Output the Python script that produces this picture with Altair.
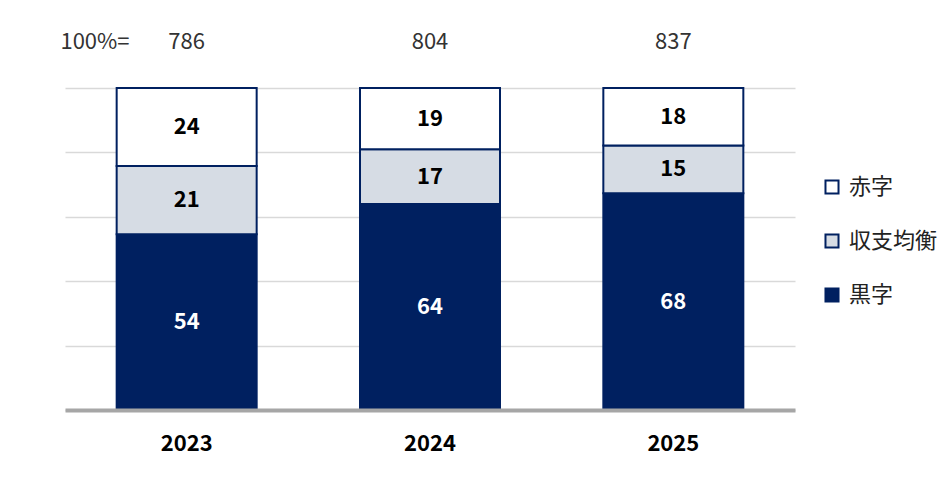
import pandas as pd
import altair as alt

# chart values
years = ["2023", "2024", "2025"]
totals = [786, 804, 837]
categories = ["黒字", "収支均衡", "赤字"]   # bottom to top
kuroji = [54, 64, 68]
shushi = [21, 17, 15]
akaji = [24, 19, 18]
cat_colors = ["#002060", "#D6DCE4", "#FFFFFF"]

FONT = "Noto Sans CJK JP"
NAVY = "#002060"

rows = []
for i, y in enumerate(years):
    for k, (cat, vals) in enumerate(zip(categories, [kuroji, shushi, akaji])):
        rows.append({"year": y, "cat": cat, "value": vals[i], "order": k,
                     "txtcolor": "white" if cat == "黒字" else "black"})
df = pd.DataFrame(rows)
top_df = pd.DataFrame({"year": years, "total": totals})

x_enc = alt.X("year:N", sort=years,
              scale=alt.Scale(paddingInner=0, paddingOuter=0),
              axis=alt.Axis(title=None, labelAngle=0, labelFontSize=22, labelFont=FONT,
                            labelFontWeight="bold", labelColor="black", ticks=False,
                            domainColor="#A6A6A6", domainWidth=4, labelPadding=23, zindex=1))

base = alt.Chart(df).transform_stack(
    stack="value", groupby=["year"], as_=["y0", "y1"], offset="normalize",
    sort=[alt.SortField("order")]
).transform_calculate(mid="(datum.y0 + datum.y1) / 2")

bars = base.mark_bar(size=140, stroke=NAVY, strokeWidth=2).encode(
    x=x_enc,
    y=alt.Y("y0:Q", scale=alt.Scale(domain=[0, 1], nice=False),
            axis=alt.Axis(title=None, labels=False, ticks=False, domain=False,
                          values=[0, 0.2, 0.4, 0.6, 0.8, 1.0],
                          gridColor="#D9D9D9", gridWidth=1.5)),
    y2="y1:Q",
    color=alt.Color("cat:N",
                    scale=alt.Scale(domain=["赤字", "収支均衡", "黒字"],
                                    range=["#FFFFFF", "#D6DCE4", "#002060"]),
                    legend=alt.Legend(title=None, orient="none", legendX=756, legendY=88,
                                      symbolType="square", symbolSize=170,
                                      symbolStrokeColor=NAVY, symbolStrokeWidth=2,
                                      labelFont=FONT, labelFontSize=22, labelColor="#222",
                                      labelOffset=6, rowPadding=32)),
)

labels = base.mark_text(font=FONT, fontSize=22, fontWeight="bold").encode(
    x=alt.X("year:N", sort=years),
    y=alt.Y("mid:Q"),
    text="value:Q",
    color=alt.Color("txtcolor:N", scale=None),
)

tops = alt.Chart(top_df).mark_text(font=FONT, fontSize=22, color="#333").encode(
    x=alt.X("year:N", sort=years),
    y=alt.value(-46),
    text="total:Q",
)

hundred = alt.Chart(pd.DataFrame({"t": ["100%="]})).mark_text(
    font=FONT, fontSize=22, color="#333").encode(
    x=alt.value(30), y=alt.value(-46), text="t:N")

chart = alt.layer(bars, labels, tops, hundred).properties(
    width=730, height=322,
    autosize=alt.AutoSizeParams(type="none"),
    padding={"left": 57, "top": 80, "right": 143, "bottom": 58},
).configure_view(stroke=None)

chart.save("out.html", embed_options={"renderer": "svg", "actions": False})
